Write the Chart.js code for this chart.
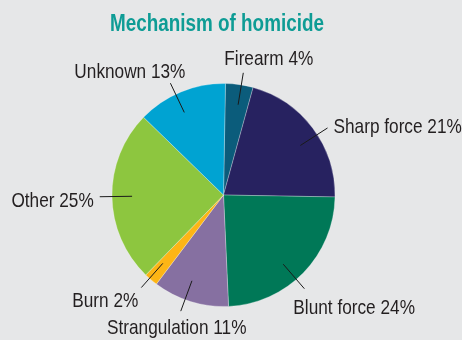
<!DOCTYPE html>
<html>
<head>
<meta charset="utf-8">
<script src="https://cdn.jsdelivr.net/npm/chart.js@4/dist/chart.umd.min.js"></script>
<style>
  html, body { margin: 0; padding: 0; background: #e6e7e8; }
  #wrap { width: 462px; height: 340px; }
</style>
</head>
<body>
<div id="wrap"><canvas id="mechChart" width="462" height="340"></canvas></div>
<script>
const chartTitle = 'Mechanism of homicide';
const categories = ['Firearm', 'Sharp force', 'Blunt force', 'Strangulation', 'Burn', 'Other', 'Unknown'];
const shares = [4, 21, 24, 11, 2, 25, 13];
const sliceColors = ['#0b5c7b', '#272260', '#007857', '#8670a1', '#fdb515', '#8dc63f', '#00a3d2'];

const FONT = "'Liberation Sans', Arial, sans-serif";
const NARROW = 0.82; // squeeze factor to get a condensed face

// where each callout sits: angle nudge (deg) for the leader, text offset from the leader end
const labelPlacement = [
  { nudge: 1,  align: 'left',   dx: -19, dy: -8 },
  { nudge: 4,  align: 'left',   dx: 6,   dy: 5 },
  { nudge: 5,  align: 'left',   dx: -11, dy: 25 },
  { nudge: 3,  align: 'center', dx: -4,  dy: 23 },
  { nudge: 1,  align: 'right',  dx: -3,  dy: 19 },
  { nudge: 0,  align: 'right',  dx: -6,  dy: 10 },
  { nudge: -3, align: 'right',  dx: 15,  dy: -5 }
];

function narrowText(ctx, text, x, y, align) {
  ctx.save();
  ctx.translate(x, y);
  ctx.scale(NARROW, 1);
  ctx.textAlign = align;
  ctx.fillText(text, 0, 0);
  ctx.restore();
}

const leaderLabels = {
  id: 'leaderLabels',
  afterDatasetsDraw(chart) {
    const ctx = chart.ctx;
    const arcs = chart.getDatasetMeta(0).data;
    ctx.save();
    ctx.textBaseline = 'alphabetic';

    // heading
    ctx.fillStyle = '#0e9c95';
    ctx.font = 'bold 23px ' + FONT;
    narrowText(ctx, chartTitle, 217, 31, 'center');

    ctx.strokeStyle = '#1a1a1a';
    ctx.lineWidth = 1;
    ctx.fillStyle = '#231f20';
    ctx.font = '21px ' + FONT;
    arcs.forEach((arc, i) => {
      const p = labelPlacement[i];
      const a = (arc.startAngle + arc.endAngle) / 2 + p.nudge * Math.PI / 180;
      const r = arc.outerRadius;
      const x0 = arc.x + Math.cos(a) * r * 0.82, y0 = arc.y + Math.sin(a) * r * 0.82;
      const x1 = arc.x + Math.cos(a) * r * 1.11, y1 = arc.y + Math.sin(a) * r * 1.11;
      ctx.beginPath();
      ctx.moveTo(x0, y0);
      ctx.lineTo(x1, y1);
      ctx.stroke();
      narrowText(ctx, categories[i] + ' ' + shares[i] + '%', x1 + p.dx, y1 + p.dy, p.align);
    });
    ctx.restore();
  }
};

new Chart(document.getElementById('mechChart'), {
  type: 'pie',
  data: {
    labels: categories,
    datasets: [{
      data: shares,
      backgroundColor: sliceColors,
      borderColor: 'rgba(255,255,255,0.45)',
      borderWidth: 0.6
    }]
  },
  options: {
    responsive: false,
    animation: false,
    rotation: 1,
    radius: 111.5,
    layout: { padding: { left: 0, right: 15, top: 50, bottom: 0 } },
    plugins: {
      legend: { display: false },
      tooltip: { enabled: false },
      title: { display: false }
    }
  },
  plugins: [leaderLabels]
});
</script>
</body>
</html>
